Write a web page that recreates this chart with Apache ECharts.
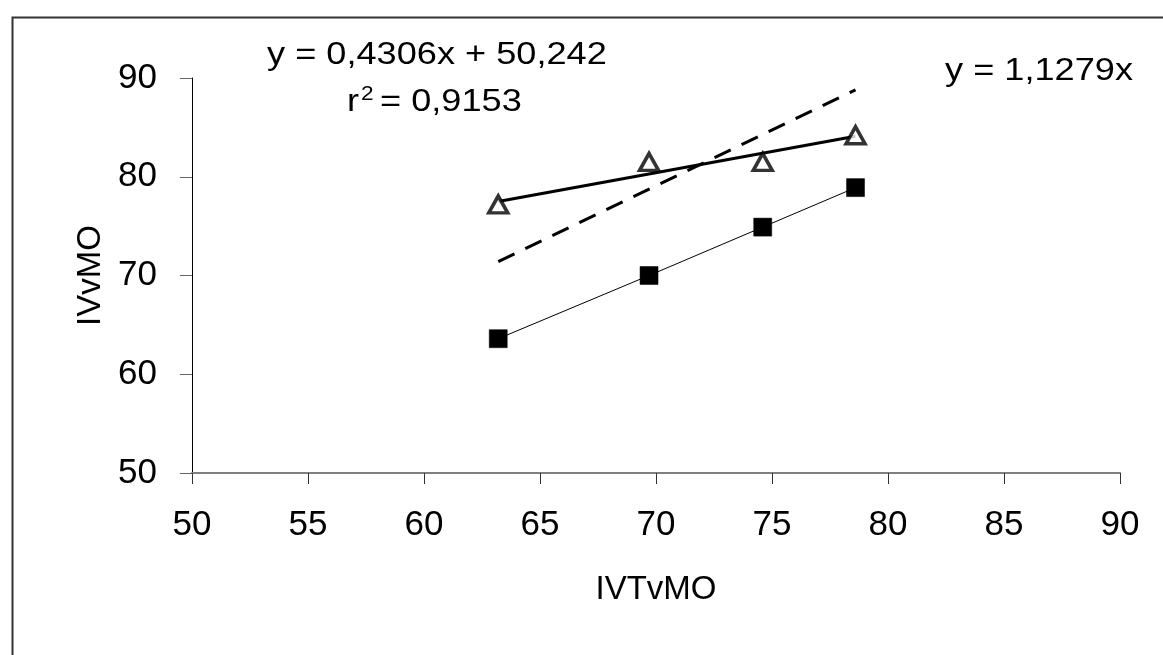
<!DOCTYPE html>
<html>
<head>
<meta charset="utf-8">
<script src="https://cdn.jsdelivr.net/npm/echarts@6/dist/echarts.min.js"></script>
<style>
html, body { margin: 0; padding: 0; background: #fff; }
#picture1 { width: 1163px; height: 655px; }
</style>
</head>
<body>
<div id="picture1"></div>
<script>
// IVTvMO values (same for both groups)
var xVals = [63.2, 69.7, 74.6, 78.6];
// triangles (open) and squares (filled)
var triY = [77.2, 81.5, 81.5, 84.2];
var sqY = [63.6, 70.0, 74.9, 78.9];
// fitted line through triangles: y = 0,4306x + 50,242
var regX = [63.2, 78.6];
var regY = [77.5, 84.1];
// dashed line: y = 1,1279x
var dashX = [63.2, 78.6];
var dashY = [71.4, 88.8];

var xTicks = [50, 90, 5];
var yTicks = [50, 90, 10];

function pairs(xs, ys) {
    var out = [];
    for (var i = 0; i < xs.length; i++) out.push([xs[i], ys[i]]);
    return out;
}

var font = 'Liberation Sans, Arial, sans-serif';

var myChart = echarts.init(document.getElementById('picture1'));
var option = {
    backgroundColor: '#fff',
    animation: false,
    grid: { left: 192, right: 43, top: 78, bottom: 182 },
    xAxis: {
        type: 'value',
        min: xTicks[0], max: xTicks[1], interval: xTicks[2],
        name: 'IVTvMO',
        nameLocation: 'middle',
        nameGap: 100,
        nameTextStyle: { fontFamily: font, fontSize: 33, color: '#000' },
        axisLine: { lineStyle: { color: '#808080', width: 2 } },
        axisTick: { length: 11, lineStyle: { color: '#333' } },
        axisLabel: { margin: 35, fontFamily: font, fontSize: 35, color: '#000' },
        splitLine: { show: false }
    },
    yAxis: {
        type: 'value',
        min: yTicks[0], max: yTicks[1], interval: yTicks[2],
        name: 'IVvMO',
        nameLocation: 'middle',
        nameGap: 78,
        nameTextStyle: { fontFamily: font, fontSize: 33, color: '#000' },
        axisLine: { show: true, lineStyle: { color: '#000', width: 1 } },
        axisTick: { show: true, length: 12, lineStyle: { color: '#666' } },
        axisLabel: { margin: 35, fontFamily: font, fontSize: 35, color: '#000' },
        splitLine: { show: false }
    },
    series: [
        {
            type: 'line',
            data: pairs(dashX, dashY),
            symbol: 'none',
            lineStyle: { color: '#000', width: 3, type: [18, 12] },
            z: 2
        },
        {
            type: 'line',
            data: pairs(regX, regY),
            symbol: 'none',
            lineStyle: { color: '#000', width: 3 },
            z: 3
        },
        {
            type: 'line',
            data: pairs(xVals, sqY),
            symbol: 'rect',
            symbolSize: 18,
            itemStyle: { color: '#000', borderColor: '#000', borderWidth: 0.5 },
            lineStyle: { color: '#000', width: 1 },
            z: 4
        },
        {
            type: 'scatter',
            data: pairs(xVals, triY),
            symbol: 'triangle',
            symbolSize: [19, 17],
            itemStyle: { color: '#fff', borderColor: '#000', borderWidth: 3.5 },
            z: 5
        }
    ],
    graphic: [
        {
            type: 'rect',
            left: 10, top: 15,
            shape: { width: 1200, height: 700 },
            style: { fill: 'none', stroke: '#333', lineWidth: 2 },
            silent: true
        },
        {
            type: 'text', left: 267, top: 39, scaleX: 1.13,
            style: { text: 'y = 0,4306x + 50,242', font: '32px ' + font, fill: '#000' }
        },
        {
            type: 'text', left: 347, top: 86, scaleX: 1.13,
            style: { text: 'r', font: '32px ' + font, fill: '#000' }
        },
        {
            type: 'text', left: 361, top: 84, scaleX: 1.13,
            style: { text: '2', font: '20px ' + font, fill: '#000' }
        },
        {
            type: 'text', left: 380, top: 86, scaleX: 1.13,
            style: { text: '= 0,9153', font: '32px ' + font, fill: '#000' }
        },
        {
            type: 'text', left: 945, top: 55, scaleX: 1.13,
            style: { text: 'y = 1,1279x', font: '32px ' + font, fill: '#000' }
        }
    ]
};
myChart.setOption(option);
</script>
</body>
</html>
